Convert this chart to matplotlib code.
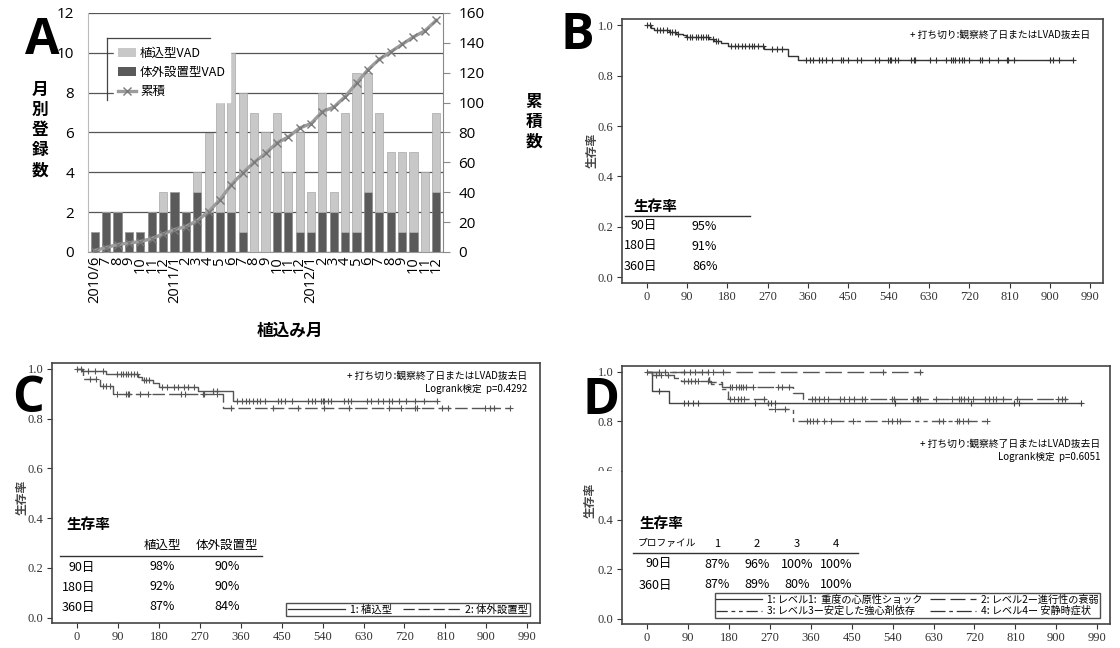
import numpy as np
import matplotlib.pyplot as plt
from matplotlib.patches import Patch, Rectangle
from matplotlib.lines import Line2D

plt.rcParams['font.family'] = ['Noto Sans CJK JP', 'DejaVu Sans']

W, H = 1120, 648

# --- A: monthly registrations ---
months = ['2010/6', '7', '8', '9', '10', '11', '12',
          '2011/1', '2', '3', '4', '5', '6', '7', '8', '9', '10', '11', '12',
          '2012/1', '2', '3', '4', '5', '6', '7', '8', '9', '10', '11', '12']
extracorporeal = [1, 2, 2, 1, 1, 2, 2, 3, 2, 3, 2, 2, 2, 1, 0, 0,
                  2, 2, 1, 1, 2, 2, 1, 1, 3, 2, 2, 1, 1, 0, 3]
implantable = [0, 0, 0, 0, 0, 0, 1, 0, 0, 1, 4, 6, 8, 7, 7, 6,
               5, 2, 5, 2, 6, 1, 6, 8, 6, 5, 3, 4, 4, 4, 4]
cumulative = [1, 3, 5, 6, 7, 9, 12, 15, 17, 21, 27, 35, 45, 53, 60, 66,
              73, 77, 83, 86, 94, 97, 104, 113, 122, 129, 134, 139, 144, 148, 155]

# --- B: overall survival ---
b_times = [0, 10, 17, 50, 65, 80, 88, 140, 150, 165, 182, 262, 315, 337]
b_surv = [1.0, 0.99, 0.979, 0.973, 0.966, 0.959, 0.952, 0.945, 0.938, 0.93,
          0.917, 0.905, 0.876, 0.86]
b_end = 952
b_censor = [0, 8, 23, 29, 37, 45, 52, 57, 63, 69, 89, 97, 102, 109, 115, 121,
            126, 133, 137, 148, 155, 160, 188, 196, 204, 212, 220, 228, 236,
            240, 248, 260, 279, 291, 303, 355, 365, 371, 385, 391, 399, 414,
            433, 438, 450, 470, 478, 510, 518, 539, 542, 544, 553, 561, 589,
            597, 599, 633, 645, 668, 680, 684, 688, 696, 704, 708, 720, 744,
            748, 764, 784, 803, 807, 819, 899, 907, 919, 952]

# --- C: by device type ---
c1_times = [0, 11, 63, 135, 143, 167, 181, 265, 343]
c1_surv = [1.0, 0.99, 0.979, 0.969, 0.956, 0.943, 0.929, 0.913, 0.873]
c1_end = 791
c1_censor = [0, 8, 25, 39, 57, 88, 96, 102, 108, 113, 119, 126, 131, 147, 152,
             159, 186, 198, 214, 222, 236, 245, 257, 300, 308, 351, 363, 371,
             379, 388, 396, 402, 414, 442, 449, 457, 473, 508, 516, 524, 537,
             540, 542, 552, 559, 587, 595, 603, 638, 646, 662, 673, 685, 693,
             709, 724, 744, 764, 791]
c2_times = [0, 13, 50, 80, 322]
c2_surv = [1.0, 0.96, 0.93, 0.90, 0.842]
c2_end = 952
c2_censor = [29, 41, 57, 64, 72, 88, 108, 112, 115, 139, 155, 229, 237, 277,
             280, 308, 339, 430, 485, 544, 599, 685, 713, 744, 748, 803, 815,
             897, 909, 917, 952]

# --- D: by INTERMACS profile ---
d1_times = [0, 10, 48]
d1_surv = [1.0, 0.922, 0.872]
d1_end = 955
d1_censor = [27, 82, 90, 101, 113, 238, 265, 273, 281, 546, 713, 807, 818, 955]
d2_times = [0, 12, 60, 75, 140, 165, 320, 343]
d2_surv = [1.0, 0.987, 0.975, 0.962, 0.95, 0.938, 0.915, 0.891]
d2_end = 924
d2_censor = [19, 31, 47, 82, 90, 97, 105, 113, 133, 183, 187, 195, 203, 207,
             210, 218, 234, 288, 296, 312, 362, 370, 378, 390, 397, 425, 433,
             444, 456, 472, 479, 538, 542, 585, 593, 596, 600, 635, 670, 686,
             690, 698, 705, 717, 744, 752, 760, 768, 783, 814, 904, 912, 920]
d3_times = [0, 136, 165, 177, 265, 320]
d3_surv = [1.0, 0.96, 0.93, 0.889, 0.848, 0.80]
d3_end = 752
d3_censor = [183, 191, 199, 207, 214, 257, 281, 304, 351, 359, 366, 374, 390,
             405, 452, 530, 538, 550, 557, 643, 651, 682, 686, 694, 705, 748]
d4_times = [0]
d4_surv = [1.0]
d4_end = 604
d4_censor = [0, 27, 39, 82, 94, 105, 121, 133, 144, 168, 518, 600]

day_ticks = list(range(0, 991, 90))
surv_ticks = [0.0, 0.2, 0.4, 0.6, 0.8, 1.0]

fig = plt.figure(figsize=(W / 100, H / 100), dpi=100)


def px_axes(l, t, r, b):
    return fig.add_axes([l / W, 1 - b / H, (r - l) / W, (b - t) / H])


def ftext(x, y, s, **kw):
    fig.text(x / W, 1 - y / H, s, **kw)


def fline(x0, x1, y, color='#333333', lw=1.0):
    fig.add_artist(Line2D([x0 / W, x1 / W], [1 - y / H, 1 - y / H], color=color, lw=lw))


def draw_km(ax, times, surv, end, censor, ls, color):
    t = list(times) + [end]
    s = list(surv) + [surv[-1]]
    ax.step(t, s, where='post', color=color, lw=1.0, ls=ls)
    idx = np.searchsorted(times, censor, side='right') - 1
    cy = np.array(surv)[idx]
    ax.plot(censor, cy, ls='none', marker='+', ms=5, mew=0.8, color=color)


def style_km(ax):
    ax.set_xlim(-55, 1018)
    ax.set_ylim(-0.022, 1.024)
    ax.set_xticks(day_ticks)
    ax.set_yticks(surv_ticks)
    ax.set_xticklabels([str(d) for d in day_ticks], family='Liberation Serif', fontsize=9)
    ax.set_yticklabels(['%.1f' % v for v in surv_ticks], family='Liberation Serif', fontsize=9)
    ax.tick_params(length=3.5, width=0.8, colors='#333333', pad=2.5)
    for sp in ax.spines.values():
        sp.set_color('#444444')
        sp.set_linewidth(1.2)


# ---------------- A ----------------
ax = px_axes(88, 13, 443, 252)
x = np.arange(len(months))
ax.bar(x, extracorporeal, width=0.72, color='#5a5a5a', edgecolor='#8a8a8a', lw=0.5, zorder=3)
ax.bar(x, implantable, width=0.72, bottom=extracorporeal, color='#c8c8c8',
       edgecolor='#a8a8a8', lw=0.5, zorder=3)
ax.set_xlim(-0.6, len(months) - 0.4)
ax.set_ylim(0, 12)
ax.set_yticks(range(0, 13, 2))
ax.yaxis.grid(True, color='#555555', lw=0.9)
ax.set_axisbelow(True)
ax.set_xticks(x)
ax.set_xticklabels(months, rotation=90, fontsize=10.5, family='Open Sans')
ax.tick_params(axis='y', length=0, labelsize=11, pad=10)
ax.tick_params(axis='x', length=0, pad=3)
for lab in ax.get_yticklabels():
    lab.set_family('Open Sans')
for sp in ['top', 'right']:
    ax.spines[sp].set_visible(False)
ax.spines['left'].set_color('#bbbbbb')
ax.spines['bottom'].set_color('#999999')

ax2 = ax.twinx()
ax2.plot(x, cumulative, color='#9c9c9c', lw=2.4, marker='x', ms=6, mew=1.0,
         mec='#7a7a7a', zorder=5)
ax2.set_ylim(0, 160)
ax2.set_yticks(range(0, 161, 20))
ax2.tick_params(axis='y', length=5, color='#888888', labelsize=11, pad=6)
for lab in ax2.get_yticklabels():
    lab.set_family('Open Sans')
for sp in ['top', 'left', 'bottom']:
    ax2.spines[sp].set_visible(False)
ax2.spines['right'].set_color('#888888')

handles = [Patch(facecolor='#c8c8c8', edgecolor='none', label='植込型VAD'),
           Patch(facecolor='#5a5a5a', edgecolor='none', label='体外設置型VAD'),
           Line2D([], [], color='#9c9c9c', lw=2.4, marker='x', mec='#7a7a7a', label='累積')]
leg = ax2.legend(handles=handles, loc='upper left', bbox_to_anchor=(0.055, 0.9),
                 fontsize=9, frameon=True, fancybox=False, handlelength=1.5,
                 handletextpad=0.3, borderpad=0.3, labelspacing=0.5)
leg.get_frame().set_edgecolor('white')
leg.get_frame().set_facecolor('white')
leg.get_frame().set_alpha(1)
fline(107, 210, 38, color='#444444', lw=0.9)
fig.add_artist(Line2D([107 / W, 107 / W], [1 - 38 / H, 1 - 100 / H], color='#444444', lw=0.9))

ftext(40, 130, '月\n別\n登\n録\n数', ha='center', va='center', fontsize=12,
      fontweight='bold', linespacing=1.15)
ftext(534, 122, '累\n積\n数', ha='center', va='center', fontsize=12,
      fontweight='bold', linespacing=1.15)
ftext(290, 330, '植込み月', ha='center', va='center', fontsize=12, fontweight='bold')

# ---------------- B ----------------
axb = px_axes(622, 19, 1103, 283)
style_km(axb)
draw_km(axb, b_times, b_surv, b_end, b_censor, '-', '#333333')
ftext(592, 150, '生存率', rotation=90, ha='center', va='center', fontsize=8.5,
      fontweight='bold', color='#444444')
ftext(1090, 35, '+ 打ち切り:観察終了日またはLVAD抜去日', ha='right', va='center', fontsize=7)
ftext(634, 206, '生存率', ha='left', va='center', fontsize=10.5, fontweight='bold')
fline(625, 750, 216)
for yy, day, val in [(226, '90日', '95%'), (246, '180日', '91%'), (267, '360日', '86%')]:
    ftext(657, yy, day, ha='right', va='center', fontsize=9)
    ftext(692, yy, val, ha='left', va='center', fontsize=9)

# ---------------- C ----------------
axc = px_axes(52, 363, 540, 623)
style_km(axc)
draw_km(axc, c1_times, c1_surv, c1_end, c1_censor, '-', '#555555')
draw_km(axc, c2_times, c2_surv, c2_end, c2_censor, (0, (9, 3)), '#555555')
ftext(22, 497, '生存率', rotation=90, ha='center', va='center', fontsize=8.5,
      fontweight='bold', color='#444444')
ftext(527, 376, '+ 打ち切り:観察終了日またはLVAD抜去日', ha='right', va='center', fontsize=7)
ftext(527, 389, 'Logrank検定  p=0.4292', ha='right', va='center', fontsize=7)
ftext(67, 524, '生存率', ha='left', va='center', fontsize=10.5, fontweight='bold')
ftext(162, 545, '植込型', ha='center', va='center', fontsize=9)
ftext(227, 545, '体外設置型', ha='center', va='center', fontsize=9)
fline(60, 262, 556)
for yy, day, v1, v2 in [(567, '90日', '98%', '90%'), (587, '180日', '92%', '90%'),
                        (607, '360日', '87%', '84%')]:
    ftext(95, yy, day, ha='right', va='center', fontsize=9)
    ftext(162, yy, v1, ha='center', va='center', fontsize=9)
    ftext(227, yy, v2, ha='center', va='center', fontsize=9)
hc = [Line2D([], [], color='#333333', lw=0.9, ls='-', label='1: 植込型'),
      Line2D([], [], color='#333333', lw=0.9, ls=(0, (9, 3)), label='2: 体外設置型')]
lc = axc.legend(handles=hc, loc='lower right', ncol=2, fontsize=7.5, frameon=True,
                fancybox=False, handlelength=5.5, borderpad=0.15, columnspacing=1.0,
                handletextpad=0.5, bbox_to_anchor=(0.99, 0.005))
lc.get_frame().set_edgecolor('#222222')
lc.get_frame().set_linewidth(1.0)

# ---------------- D ----------------
axd = px_axes(622, 366, 1110, 624)
style_km(axd)
draw_km(axd, d4_times, d4_surv, d4_end, d4_censor, (0, (12, 4)), '#555555')
draw_km(axd, d1_times, d1_surv, d1_end, d1_censor, '-', '#444444')
draw_km(axd, d2_times, d2_surv, d2_end, d2_censor, (0, (12, 3)), '#555555')
draw_km(axd, d3_times, d3_surv, d3_end, d3_censor, (0, (9, 3, 3, 3, 3, 3)), '#555555')
ftext(590, 500, '生存率', rotation=90, ha='center', va='center', fontsize=8.5,
      fontweight='bold', color='#444444')
ftext(1100, 444, '+ 打ち切り:観察終了日またはLVAD抜去日', ha='right', va='center', fontsize=7)
ftext(1100, 457, 'Logrank検定  p=0.6051', ha='right', va='center', fontsize=7)
ftext(640, 523, '生存率', ha='left', va='center', fontsize=10.5, fontweight='bold')
ftext(638, 543, 'プロファイル', ha='left', va='center', fontsize=7)
prof_x = [717, 757, 797, 836]
for px_, lab in zip(prof_x, ['1', '2', '3', '4']):
    ftext(px_, 544, lab, ha='center', va='center', fontsize=8)
fline(633, 858, 553)
for yy, day, vals in [(564, '90日', ['87%', '96%', '100%', '100%']),
                      (585, '360日', ['87%', '89%', '80%', '100%'])]:
    ftext(672, yy, day, ha='right', va='center', fontsize=9)
    for px_, v in zip(prof_x, vals):
        ftext(px_, yy, v, ha='center', va='center', fontsize=9)
hd = [Line2D([], [], color='#333333', lw=0.9, ls='-', label='1: レベル1:  重度の心原性ショック'),
      Line2D([], [], color='#333333', lw=0.9, ls=(0, (9, 3, 3, 3, 3, 3)), label='3: レベル3ー安定した強心剤依存'),
      Line2D([], [], color='#333333', lw=0.9, ls=(0, (12, 4)), label='2: レベル2ー進行性の衰弱'),
      Line2D([], [], color='#333333', lw=0.9, ls=(0, (12, 3, 3, 3)), label='4: レベル4ー 安静時症状')]
ld = axd.legend(handles=hd, loc='lower right', ncol=2, fontsize=7.3, frameon=True,
                fancybox=False, handlelength=4.5, borderpad=0.15, columnspacing=0.8,
                handletextpad=0.5, labelspacing=0.1, bbox_to_anchor=(0.99, 0.005))
ld.get_frame().set_edgecolor('#222222')
ld.get_frame().set_linewidth(1.0)

# the lower half of the 0.6 label in panel D is blanked in the original scan
fig.add_artist(Rectangle((575 / W, 1 - 481 / H), 46 / W, 10 / H, facecolor='white',
                         edgecolor='none', zorder=10))

# panel letters
for (lx, ly, letter) in [(42, 41, 'A'), (577, 36, 'B'), (28, 399, 'C'), (601, 401, 'D')]:
    ftext(lx, ly, letter, ha='center', va='center', fontsize=36, fontweight='bold',
          family='Open Sans')

fig.savefig('out.png', dpi=100)
